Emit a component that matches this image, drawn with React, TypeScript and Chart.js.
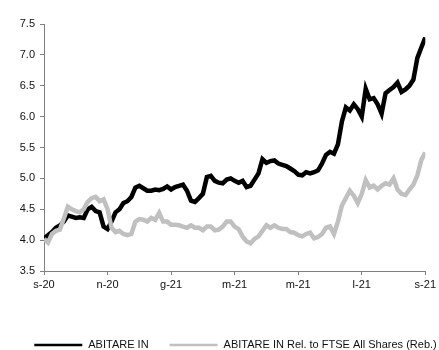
import React, { useEffect, useRef } from "react";
import { Chart, registerables, Plugin } from "chart.js";

Chart.register(...registerables);

// Period labels on the x axis (bi-monthly, Sep 2020 to Sep 2021)
const periodLabels = ["s-20", "n-20", "g-21", "m-21", "m-21", "l-21", "s-21"];

// Y axis range
const yMin = 3.5;
const yMax = 7.5;
const yStep = 0.5;

const seriesNames = ["ABITARE IN", "ABITARE IN Rel. to FTSE All Shares (Reb.)"];

// Share price, sampled along the year
const abitare = [
  4.02, 4.08, 4.13, 4.2, 4.24, 4.3, 4.4, 4.38, 4.36, 4.37,
  4.36, 4.5, 4.54, 4.47, 4.45, 4.22, 4.18, 4.3, 4.45, 4.5,
  4.6, 4.63, 4.7, 4.85, 4.88, 4.84, 4.8, 4.8, 4.82, 4.81,
  4.83, 4.87, 4.82, 4.86, 4.88, 4.9, 4.8, 4.64, 4.62, 4.68,
  4.75, 5.02, 5.04, 4.96, 4.93, 4.92, 4.98, 5.0, 4.96, 4.93,
  4.96, 4.86, 4.88, 4.98, 5.08, 5.31, 5.25, 5.28, 5.29, 5.24,
  5.22, 5.2, 5.16, 5.12, 5.06, 5.05, 5.1, 5.08, 5.1, 5.13,
  5.24, 5.38, 5.43, 5.4, 5.55, 5.92, 6.15, 6.1, 6.2, 6.12,
  6.0, 6.45, 6.28, 6.3, 6.2, 6.05, 6.38, 6.43, 6.48, 6.55,
  6.4, 6.44, 6.5, 6.6, 6.95, 7.12, 7.28,
];

// Relative performance vs FTSE All Shares, rebased
const abitareRel = [
  4.02, 3.96, 4.1, 4.15, 4.17, 4.35, 4.54, 4.5, 4.47, 4.45,
  4.5, 4.62, 4.68, 4.7, 4.63, 4.66, 4.5, 4.2, 4.13, 4.15,
  4.1, 4.08, 4.1, 4.3, 4.34, 4.33, 4.3, 4.36, 4.33, 4.44,
  4.3, 4.3, 4.25, 4.25, 4.24, 4.22, 4.2, 4.24, 4.2, 4.2,
  4.16, 4.22, 4.22, 4.16, 4.17, 4.22, 4.3, 4.3, 4.22, 4.18,
  4.06, 3.98, 3.95, 4.02, 4.06, 4.15, 4.24, 4.2, 4.24, 4.2,
  4.18, 4.18, 4.13, 4.12, 4.08, 4.06, 4.1, 4.12, 4.03, 4.05,
  4.1, 4.2, 4.22, 4.1, 4.3, 4.56, 4.68, 4.8, 4.72, 4.6,
  4.75, 4.97, 4.85, 4.88, 4.82, 4.88, 4.92, 4.9, 5.0, 4.82,
  4.75, 4.73, 4.82, 4.9, 5.05, 5.3, 5.42,
];

const lineColors = ["#000000", "#c0c0c0"];
const FONT = "'Liberation Sans', Arial, sans-serif";

// Single-row legend under the x axis: a short line swatch followed by the series name
const bottomLegend: Plugin<"line"> = {
  id: "bottomLegend",
  afterDraw(chart) {
    const ctx = chart.ctx;
    const swatch = 48;
    const gap = 6;
    const itemGap = 21;
    ctx.save();
    ctx.font = `11px ${FONT}`;
    const items = chart.data.datasets.map((ds, i) => ({
      text: String(ds.label),
      color: lineColors[i],
      w: ctx.measureText(String(ds.label)).width,
    }));
    const total = items.reduce((s, it) => s + swatch + gap + it.w, 0) + itemGap * (items.length - 1);
    const centre = (chart.width + chart.chartArea.left - 12) / 2;
    let x = centre - total / 2;
    const y = chart.height - 5;
    items.forEach((it) => {
      ctx.strokeStyle = it.color;
      ctx.lineWidth = 2.5;
      ctx.beginPath();
      ctx.moveTo(x, y);
      ctx.lineTo(x + swatch, y);
      ctx.stroke();
      ctx.fillStyle = "#111";
      ctx.textAlign = "left";
      ctx.textBaseline = "middle";
      ctx.fillText(it.text, x + swatch + gap, y);
      x += swatch + gap + it.w + itemGap;
    });
    ctx.restore();
  },
};

export default function App() {
  const canvasRef = useRef<HTMLCanvasElement | null>(null);

  useEffect(() => {
    if (!canvasRef.current) return;
    const lastIndex = abitare.length - 1;
    const tickEvery = lastIndex / (periodLabels.length - 1);

    const chart = new Chart(canvasRef.current, {
      type: "line",
      data: {
        datasets: [
          {
            label: seriesNames[0],
            data: abitare.map((v, i) => ({ x: i, y: v })),
            borderColor: lineColors[0],
            borderWidth: 4.5,
            pointRadius: 0,
            tension: 0,
            order: 1,
          },
          {
            label: seriesNames[1],
            data: abitareRel.map((v, i) => ({ x: i, y: v })),
            borderColor: lineColors[1],
            borderWidth: 4.5,
            pointRadius: 0,
            tension: 0,
            order: 0,
          },
        ],
      },
      plugins: [bottomLegend],
      options: {
        responsive: false,
        animation: false,
        layout: { padding: { top: 24, right: 11, left: 0, bottom: 34 } },
        plugins: {
          tooltip: { enabled: false },
          legend: { display: false },
        },
        scales: {
          x: {
            type: "linear",
            min: 0,
            max: lastIndex,
            afterBuildTicks: (scale) => {
              scale.ticks = periodLabels.map((_, k) => ({ value: k * tickEvery }));
            },
            afterFit: (scale) => {
              scale.height = 45;
            },
            ticks: {
              autoSkip: false,
              maxRotation: 0,
              padding: 3,
              color: "#111",
              font: { family: FONT, size: 11 },
              callback: (v) => periodLabels[Math.round(Number(v) / tickEvery)] ?? "",
            },
            grid: {
              drawOnChartArea: false,
              drawTicks: true,
              tickLength: 4,
              color: "#808080",
            },
            border: { display: true, color: "#808080", width: 1 },
          },
          y: {
            min: yMin,
            max: yMax,
            afterFit: (scale) => {
              scale.width = 44;
            },
            ticks: {
              stepSize: yStep,
              padding: 5,
              color: "#111",
              font: { family: FONT, size: 11 },
              callback: (v) => Number(v).toFixed(1),
            },
            grid: {
              drawOnChartArea: false,
              drawTicks: true,
              tickLength: 4,
              color: "#808080",
            },
            border: { display: true, color: "#808080", width: 1 },
          },
        },
      },
    });

    return () => chart.destroy();
  }, []);

  return (
    <div style={{ position: "absolute", left: 0, top: 0, width: 439, height: 350, background: "#fff" }}>
      <canvas ref={canvasRef} width={439} height={350} style={{ display: "block" }} />
    </div>
  );
}
